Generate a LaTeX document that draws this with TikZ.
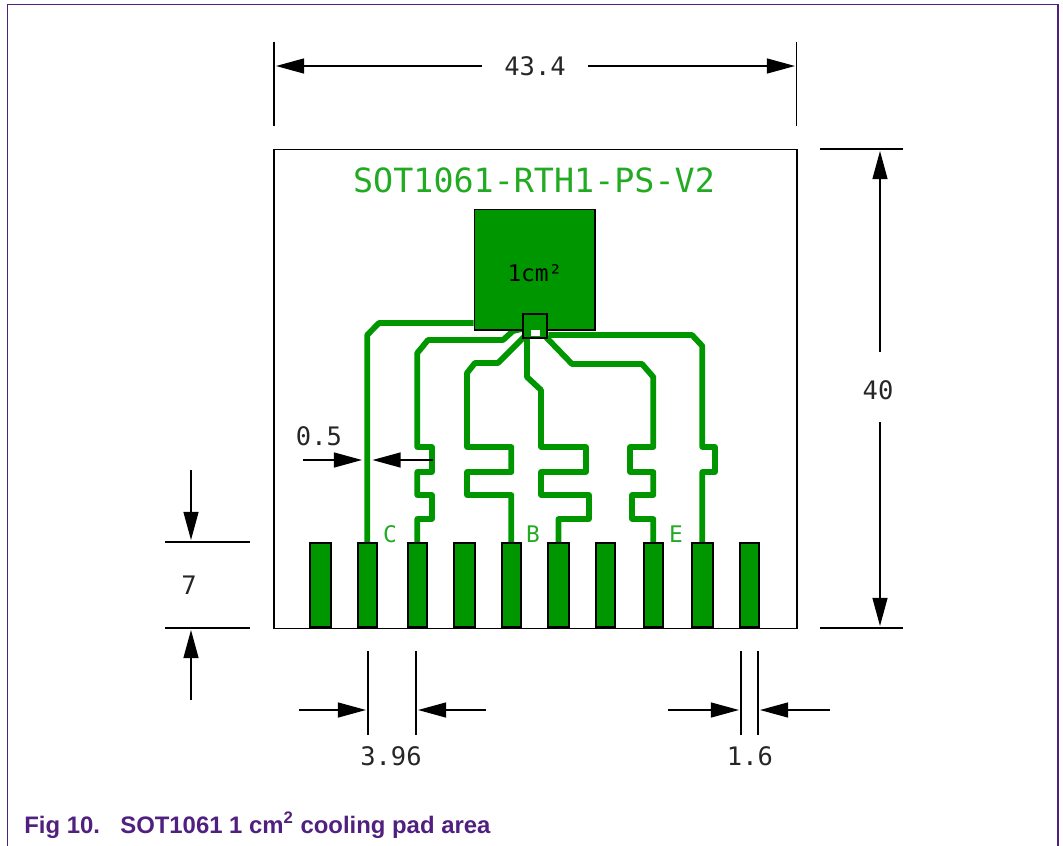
\documentclass[tikz,border=0pt]{standalone}
\usepackage{fontspec}
\setmainfont{Liberation Sans}
\setmonofont{DejaVu Sans Mono}
\usetikzlibrary{arrows.meta, backgrounds}
\definecolor{padgreen}{RGB}{0,150,0}
\definecolor{textgreen}{RGB}{34,170,34}
\definecolor{framepurple}{RGB}{80,32,128}
\tikzstyle{pad} = [rectangle, draw=black, fill=padgreen, line width=1pt, inner sep=0pt, minimum height=1.68cm, anchor=south]
\tikzstyle{trace} = [draw=padgreen, line width=3.3pt, line join=round]
\tikzstyle{dimline} = [draw=black, line width=0.9pt]
\tikzstyle{dimarrow} = [draw=black, line width=0.9pt, -{Triangle[length=16pt,width=8.5pt]}]
\tikzstyle{dimtext} = [font=\ttfamily\fontsize{14.5}{14.5}\selectfont, text=black!85, inner sep=0pt]
\tikzstyle{pinlabel} = [font=\ttfamily\fontsize{13}{13}\selectfont, text=textgreen, inner sep=0pt]
\begin{document}
\begin{tikzpicture}[x=0.02cm,y=-0.02cm]
\useasboundingbox (0,0) rectangle (1063,846);

\draw[framepurple,line width=0.8pt] (7.5,846) -- (7.5,4.5) -- (1058,4.5) -- (1058,846);

\node (board) [draw=black,line width=1pt,inner sep=0pt,minimum width=10.46cm,minimum height=9.58cm,anchor=north west] at (273.4,148.6) {};

\node (title) [pinlabel,font=\ttfamily\fontsize{19}{19}\selectfont] at (534,180) {SOT1061-RTH1-PS-V2};

\foreach \n/\x/\w in {1/320.3/21,2/367.2/19,3/417.3/19,4/464.3/21,5/511.3/19,6/558.5/20.5,7/605.5/19,8/653.3/19,9/702.3/21,10/749.5/19}
    \node (pad\n) [pad,minimum width=\w*0.02cm] at (\x,627.5) {};

\node (coolpad) [rectangle,draw=black,fill=padgreen,line width=1pt,inner sep=0pt,minimum width=2.41cm,minimum height=2.41cm,anchor=north west] at (473.7,208.5) {};
\node (coolarea) [dimtext,font=\ttfamily\fontsize{13}{13}\selectfont,text=black] at (535,273) {1cm²};

\node (die) [rectangle,draw=black,fill=padgreen,line width=1pt,inner sep=0pt,minimum width=0.49cm,minimum height=0.48cm,anchor=north west] at (522,313) {};
\node (diegap) [rectangle,fill=white,inner sep=0pt,minimum width=0.18cm,minimum height=0.12cm] at (535.5,333.2) {};

% collector, base and emitter tracks
\begin{scope}[on background layer]
\draw[trace] (pad2.north) -- (367.2,335) -- (379,323) -- (coolpad.west |- 379,323);
\draw[trace] (pad3.north) -- (417.3,519) -- (432,519) -- (432,495) -- (417.3,495) -- (417.3,472) -- (432,472) -- (432,447) -- (417.3,447) -- (417.3,353) -- (428,340) -- (503,340) -- (513,331) -- (die.center);
\draw[trace] (pad5.north) -- (511.3,495) -- (467,495) -- (467,472) -- (511.3,472) -- (511.3,447) -- (467,447) -- (467,373) -- (475,363) -- (498,363) -- (die.center);
\draw[trace] (pad6.north) -- (558.5,519) -- (589,519) -- (589,495) -- (541,495) -- (541,472) -- (586,472) -- (586,447) -- (541,447) -- (541,390) -- (527,377) -- (527,0 |- die.center);
\draw[trace] (pad8.north) -- (653.3,519) -- (632,519) -- (632,495) -- (653.3,495) -- (653.3,472) -- (630,472) -- (630,447) -- (653.3,447) -- (653.3,377) -- (642,364) -- (572,364) -- (die.center);
\draw[trace] (pad9.north) -- (702.3,472) -- (715,472) -- (715,447) -- (702.3,447) -- (702.3,346) -- (692,335) -- (die.east |- 692,335);
\end{scope}

\node (labelc) [pinlabel] at (390,534) {C};
\node (labelb) [pinlabel] at (533,534) {B};
\node (labele) [pinlabel] at (676,534) {E};

\foreach \n/\x/\y in {wa/274/42,wb/274/126,wc/796.5/42,wd/796.5/126,we/482/66,wf/276/66,wg/588/66,wh/795/66,
    ha/820/149,hb/903/149,hc/820/628,hd/903/628,he/880/352,hf/880/151,hg/880/422,hh/880/626,
    la/165/542,lb/250/542,lc/165/628,ld/250/628,le/191/470,lf/191/540,lg/191/700,lh/191/630,
    sa/303/460,sb/362/460,sc/433/460,sd/372.5/460,
    pa/368/651,pb/368/735,pc/416/651,pd/416/735,pe/299/710,pf/366/710,pg/486/710,ph/418/710,
    ga/741/651,gb/741/735,gc/758/651,gd/758/735,ge/668/710,gf/739/710,gg/830/710,gh/760/710}
    \coordinate (\n) at (\x,\y);

\draw[dimline] (wa) -- (wb);
\draw[dimline] (wc) -- (wd);
\draw[dimarrow] (we) -- (wf);
\draw[dimarrow] (wg) -- (wh);
\node (width) [dimtext] at (535,66) {43.4};

\draw[dimline] (ha) -- (hb);
\draw[dimline] (hc) -- (hd);
\draw[dimarrow] (he) -- (hf);
\draw[dimarrow] (hg) -- (hh);
\node (height) [dimtext] at (878,390) {40};

\draw[dimline] (la) -- (lb);
\draw[dimline] (lc) -- (ld);
\draw[dimarrow] (le) -- (lf);
\draw[dimarrow] (lg) -- (lh);
\node (padlength) [dimtext] at (189,585) {7};

\draw[dimarrow] (sa) -- (sb);
\draw[dimarrow] (sc) -- (sd);
\node (spacing) [dimtext] at (319,436) {0.5};

\draw[dimline] (pa) -- (pb);
\draw[dimline] (pc) -- (pd);
\draw[dimarrow] (pe) -- (pf);
\draw[dimarrow] (pg) -- (ph);
\node (pitch) [dimtext] at (391,756) {3.96};

\draw[dimline] (ga) -- (gb);
\draw[dimline] (gc) -- (gd);
\draw[dimarrow] (ge) -- (gf);
\draw[dimarrow] (gg) -- (gh);
\node (padwidth) [dimtext] at (750,756) {1.6};

\node (caption) [anchor=base west,inner sep=0pt,text=framepurple,font=\bfseries\fontsize{13.6}{13.6}\selectfont] at (24,833) {Fig 10.\hspace{0.85em}SOT1061 1 cm\textsuperscript{2} cooling pad area};

\end{tikzpicture}
\end{document}
